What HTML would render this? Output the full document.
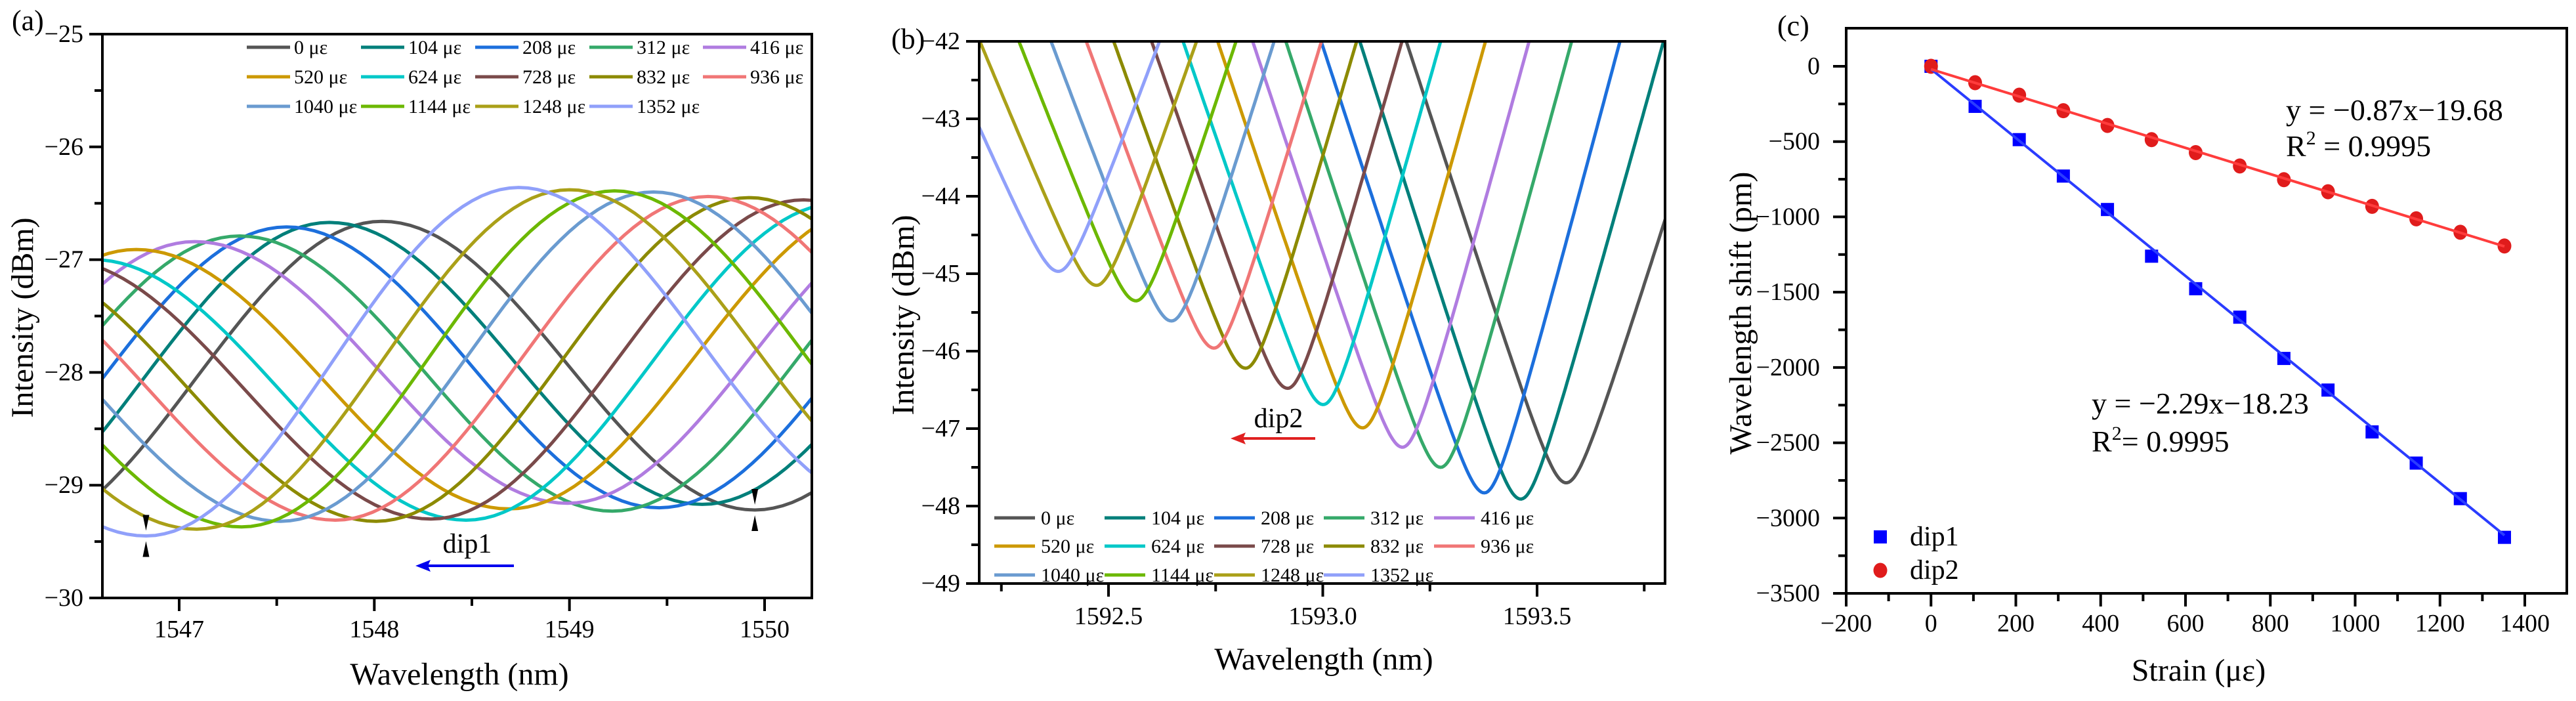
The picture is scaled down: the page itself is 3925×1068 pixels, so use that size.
<!DOCTYPE html>
<html><head><meta charset="utf-8"><style>
html,body{margin:0;padding:0;background:#fff;}
svg, svg text{font-family:"Liberation Serif","DejaVu Serif","Times New Roman",serif;}
</style></head><body>
<svg id="fig" width="3925" height="1063" viewBox="0 0 3925 1063" xmlns="http://www.w3.org/2000/svg"></svg>
<script>
// ---------- shared data ----------
const strainLabels = ["0 με","104 με","208  με","312  με","416  με","520  με","624  με","728  με","832  με","936  με","1040  με","1144  με","1248  με","1352  με"];
const seriesColors = ["#555555","#007f7a","#1c6fdc","#35a96a","#b07ce0","#cc9900","#00c8c8","#7a4a4a","#8c8a00","#f07676","#6a9bd0","#6cb800","#aaa018","#90a0fa"];
// Panel (a): extrema per series
const dipA_lambda = [1549.95,1549.68,1549.46,1549.22,1548.99,1548.69,1548.47,1548.29,1548.01,1547.80,1547.52,1547.32,1547.09,1546.83];
const dipA_level = [-29.22,-29.17,-29.20,-29.23,-29.16,-29.21,-29.31,-29.30,-29.32,-29.31,-29.32,-29.37,-29.39,-29.45];
const peakLeftA = [-26.66,-26.67,-26.71,-26.79,-26.84,-26.91,-27.0,-27.0,-27.0,-27.0,-27.0,-27.0,-27.0,-27.0];
const peakRightA = [-26.5,-26.5,-26.5,-26.5,-26.5,-26.5,-26.5,-26.47,-26.45,-26.44,-26.40,-26.39,-26.38,-26.36];
const halfPeriodA = [1.91,1.91,1.91,1.91,1.91,1.91,1.91,1.91,1.91,1.91,1.91,1.91,1.91,1.91];
const outerDipLeftA = -29.45, outerDipRightA = -29.2;
// Panel (b)
const dipB_lambda = [1593.568,1593.462,1593.377,1593.275,1593.186,1593.093,1593.001,1592.918,1592.82,1592.746,1592.647,1592.564,1592.472,1592.383];
const dipB_level = [-47.70,-47.91,-47.83,-47.50,-47.24,-46.99,-46.69,-46.48,-46.22,-45.96,-45.61,-45.35,-45.15,-44.97];
const slopeB_left = [17,17.5,17,17,16.8,16.6,16.2,16,15.6,15.2,14.8,14.2,13.4,12.5];
const slopeB_right = [17.5,20,20.9,20.5,20.3,20,19.8,19.5,19,18.5,17.8,17,16,14.9];
// Panel (c)
const strainC = [0,104,208,312,416,520,624,728,832,936,1040,1144,1248,1352];
const dip1Shift = [0,-266,-487,-729,-951,-1261,-1477,-1666,-1940,-2150,-2428,-2635,-2871,-3128];
const dip2Shift = [0,-109,-192,-295,-393,-487,-573,-662,-753,-833,-930,-1013,-1102,-1193];
const fit1 = [-2.29,-18.23], fit2 = [-0.87,-19.68];
const ticksAx = [1547,1548,1549,1550], ticksAy = [-25,-26,-27,-28,-29,-30];
const ticksBx = [1592.5,1593.0,1593.5], ticksBy = [-42,-43,-44,-45,-46,-47,-48,-49];
const ticksCx = [-200,0,200,400,600,800,1000,1200,1400], ticksCy = [0,-500,-1000,-1500,-2000,-2500,-3000,-3500];

const NS="http://www.w3.org/2000/svg";
const svg=document.getElementById('fig');
function mk(tag,attrs,parent,txt){const e=document.createElementNS(NS,tag);for(const k in attrs)e.setAttribute(k,attrs[k]);
  if(tag==='text')e.setAttribute('style','font-family:"Liberation Serif","DejaVu Serif",serif');
  if(txt!==undefined)e.textContent=txt;(parent||svg).appendChild(e);return e;}
function lin(d0,d1,r0,r1){return v=>r0+(v-d0)*(r1-r0)/(d1-d0);}

function frame(g,L,T,R,B,minorX,minorY,X,Y,fmtX,fmtY,majX,majY,labelYOffX,labelXBase){
  const fr=mk('rect',{x:L,y:T,width:R-L,height:B-T,fill:'none',stroke:'#000','stroke-width':4},g);
  const gx=mk('g',{},g);
  minorX.forEach(v=>{const x=X(v);if(x<L-1||x>R+1)return;mk('line',{x1:x,x2:x,y1:B,y2:B+12,stroke:'#000','stroke-width':4},gx);});
  majX.forEach(v=>{const x=X(v);mk('line',{x1:x,x2:x,y1:B,y2:B+20,stroke:'#000','stroke-width':4},gx);
    const t=mk('text',{x:x,y:labelXBase,'font-size':38,'text-anchor':'middle'},gx,fmtX(v));});
  const gy=mk('g',{},g);
  minorY.forEach(v=>{const y=Y(v);if(y<T-1||y>B+1)return;mk('line',{x1:L-12,x2:L,y1:y,y2:y,stroke:'#000','stroke-width':4},gy);});
  majY.forEach(v=>{const y=Y(v);mk('line',{x1:L-20,x2:L,y1:y,y2:y,stroke:'#000','stroke-width':4},gy);
    const t=mk('text',{x:L-labelYOffX,y:y+12,'font-size':38,'text-anchor':'end'},gy,fmtY(v));});
}
const minus=s=>String(s).replace('-','\u2212');

// ---------- Panel A ----------
(function(){
  const L=156,T=52,R=1237,B=911;
  const X=lin(1547,1550,273,1165), Y=lin(-25,-30,T,B);
  const g=mk('g',{});
  const cp=mk('clipPath',{id:'clipA'},g);mk('rect',{x:L,y:T,width:R-L,height:B-T},cp);
  const cg=mk('g',{'clip-path':'url(#clipA)'},g);
  for(let k=0;k<14;k++){
    const h=halfPeriodA[k],d=dipA_lambda[k];
    const ext=[[d-3*h,peakLeftA[k]],[d-2*h,outerDipLeftA],[d-h,peakLeftA[k]],[d,dipA_level[k]],[d+h,peakRightA[k]],[d+2*h,outerDipRightA],[d+3*h,peakRightA[k]]];
    let pts=[];
    for(let i=0;i<ext.length-1;i++){const [x0,y0]=ext[i],[x1,y1]=ext[i+1];
      for(let s=0;s<=40;s++){const f=s/40;const lam=x0+(x1-x0)*f;if(lam<1546.5||lam>1550.35)continue;const v=y0+(y1-y0)*(1-Math.cos(Math.PI*f))/2;pts.push(X(lam).toFixed(1)+','+Y(v).toFixed(1));}}
    const p=mk('polyline',{points:pts.join(' '),fill:'none',stroke:seriesColors[k],'stroke-width':5},cg);
    
  }
  frame(g,L,T,R,B,[1546.5,1547.5,1548.5,1549.5,1550.5],[-25.5,-26.5,-27.5,-28.5,-29.5],X,Y,v=>v,minus,ticksAx,ticksAy,29,971);
  [[dipA_lambda[13],dipA_level[13]],[dipA_lambda[0],dipA_level[0]]].forEach(([l,v])=>{
    const x=X(l),y=Y(v);
    const m=mk('g',{},g);
    mk('path',{d:`M${x-5},${y-32} L${x+5},${y-32} L${x},${y-8} Z`,fill:'#000'},m);
    mk('path',{d:`M${x-5},${y+32} L${x+5},${y+32} L${x},${y+8} Z`,fill:'#000'},m);
  });
  const t=mk('text',{x:712,y:842,'font-size':42,'text-anchor':'middle'},g,'dip1');
  const a=mk('g',{},g);
  mk('line',{x1:783,x2:650,y1:862,y2:862,stroke:'#0000ee','stroke-width':4},a);
  mk('path',{d:'M633,862 L656,853 L652,862 L656,871 Z',fill:'#0000ee'},a);
  const lt=mk('text',{x:18,y:46,'font-size':44},g,'(a)');
  const yt=mk('text',{transform:'translate(50,484) rotate(-90)','font-size':48,'text-anchor':'middle'},g,'Intensity (dBm)');
  const xt=mk('text',{x:700,y:1043,'font-size':48,'text-anchor':'middle'},g,'Wavelength (nm)');
  const lg=mk('g',{},g);
  const cols=[376,550,724,898,1071],rows=[72,117,162];
  for(let k=0;k<14;k++){const cx=cols[k%5],cy=rows[Math.floor(k/5)];
    const e=mk('g',{},lg);
    mk('line',{x1:cx,x2:cx+66,y1:cy,y2:cy,stroke:seriesColors[k],'stroke-width':5},e);
    mk('text',{x:cx+72,y:cy+10,'font-size':30,'xml:space':'preserve'},e,strainLabels[k]);}
})();

// ---------- Panel B ----------
(function(){
  const L=1492,T=63,R=2537,B=889;
  const X=lin(1592.5,1593.5,1689,2342), Y=lin(-42,-49,T,B);
  const g=mk('g',{});
  const cp=mk('clipPath',{id:'clipB'},g);mk('rect',{x:L,y:T,width:R-L,height:B-T},cp);
  const cg=mk('g',{'clip-path':'url(#clipB)'},g);
  const c=0.04;
  for(let k=0;k<14;k++){
    let pts=[];
    for(let s=0;s<=400;s++){const lam=1592.18+s*(1593.82-1592.18)/400;const d=lam-dipB_lambda[k];
      const a=d<0?slopeB_left[k]:slopeB_right[k];const v=dipB_level[k]+a*(Math.sqrt(d*d+c*c)-c);
      if(v>-41.5)continue;pts.push(X(lam).toFixed(1)+','+Y(v).toFixed(1));}
    const p=mk('polyline',{points:pts.join(' '),fill:'none',stroke:seriesColors[k],'stroke-width':5},cg);
    
  }
  frame(g,L,T,R,B,[1592.25,1592.75,1593.25,1593.75],[-42.5,-43.5,-44.5,-45.5,-46.5,-47.5,-48.5],X,Y,v=>v.toFixed(1),minus,ticksBx,ticksBy,29,951);
  const t=mk('text',{x:1948,y:651,'font-size':42,'text-anchor':'middle'},g,'dip2');
  const a=mk('g',{},g);
  mk('line',{x1:2004,x2:1892,y1:668,y2:668,stroke:'#e02020','stroke-width':4},a);
  mk('path',{d:'M1875,668 L1898,659 L1894,668 L1898,677 Z',fill:'#e02020'},a);
  const lt=mk('text',{x:1358,y:74,'font-size':44},g,'(b)');
  const yt=mk('text',{transform:'translate(1392,480) rotate(-90)','font-size':48,'text-anchor':'middle'},g,'Intensity (dBm)');
  const xt=mk('text',{x:2017,y:1020,'font-size':48,'text-anchor':'middle'},g,'Wavelength (nm)');
  const lg=mk('g',{},g);
  const cols=[1515,1683,1850,2017,2185],rows=[789,832,876];
  for(let k=0;k<14;k++){const cx=cols[k%5],cy=rows[Math.floor(k/5)];
    const e=mk('g',{},lg);
    mk('line',{x1:cx,x2:cx+62,y1:cy,y2:cy,stroke:seriesColors[k],'stroke-width':5},e);
    mk('text',{x:cx+71,y:cy+10,'font-size':30,'xml:space':'preserve'},e,strainLabels[k]);}
})();

// ---------- Panel C ----------
(function(){
  const L=2813,T=43,R=3911,B=904;
  const X=lin(-200,1400,2813,3847), Y=lin(0,-3500,101,904);
  const g=mk('g',{});
  frame(g,L,T,R,B,[-100,100,300,500,700,900,1100,1300],[-250,-750,-1250,-1750,-2250,-2750,-3250],X,Y,minus,minus,ticksCx,ticksCy,40,962);
  const s1=mk('g',{},g);
  const s2=mk('g',{},g);
  strainC.forEach((x,i)=>{
    const r=mk('rect',{x:X(x)-10,y:Y(dip1Shift[i])-10,width:20,height:20,fill:'#0000ff'},s1);});
  strainC.forEach((x,i)=>{
    const c=mk('ellipse',{cx:X(x),cy:Y(dip2Shift[i]),rx:10.5,ry:11.5,fill:'#e01c1c'},s2);});
  const x0=strainC[0],x1=strainC[strainC.length-1];
  const f1=mk('line',{x1:X(x0),y1:Y(fit1[0]*x0+fit1[1]),x2:X(x1),y2:Y(fit1[0]*x1+fit1[1]),stroke:'#2a3cff','stroke-width':4},g);
  const f2=mk('line',{x1:X(x0),y1:Y(fit2[0]*x0+fit2[1]),x2:X(x1),y2:Y(fit2[0]*x1+fit2[1]),stroke:'#ff3c3c','stroke-width':4},g);
  function txt(x,y,s,n){const t=mk('text',{x:x,y:y,'font-size':46},g);t.innerHTML=s;}
  txt(3483,183,'y = \u22120.87x\u221219.68','fit-equation-dip2');
  txt(3483,238,'R<tspan font-size="30" dy="-18">2</tspan><tspan dy="18"> = 0.9995</tspan>','r-squared-dip2');
  txt(3187,630,'y = \u22122.29x\u221218.23','fit-equation-dip1');
  txt(3187,688,'R<tspan font-size="30" dy="-18">2</tspan><tspan dy="18">= 0.9995</tspan>','r-squared-dip1');
  const lg=mk('g',{},g);
  mk('rect',{x:2855,y:808,width:20,height:20,fill:'#0000ff'},lg);
  mk('text',{x:2910,y:831,'font-size':42},lg,'dip1');
  mk('ellipse',{cx:2865,cy:869,rx:10.5,ry:11.5,fill:'#e01c1c'},lg);
  mk('text',{x:2910,y:882,'font-size':42},lg,'dip2');
  const lt=mk('text',{x:2708,y:54,'font-size':44},g,'(c)');
  const yt=mk('text',{transform:'translate(2668,477) rotate(-90)','font-size':48,'text-anchor':'middle'},g,'Wavelength shift (pm)');
  const xt=mk('text',{x:3350,y:1037,'font-size':48,'text-anchor':'middle'},g,'Strain (με)');
})();
</script>
</body></html>
